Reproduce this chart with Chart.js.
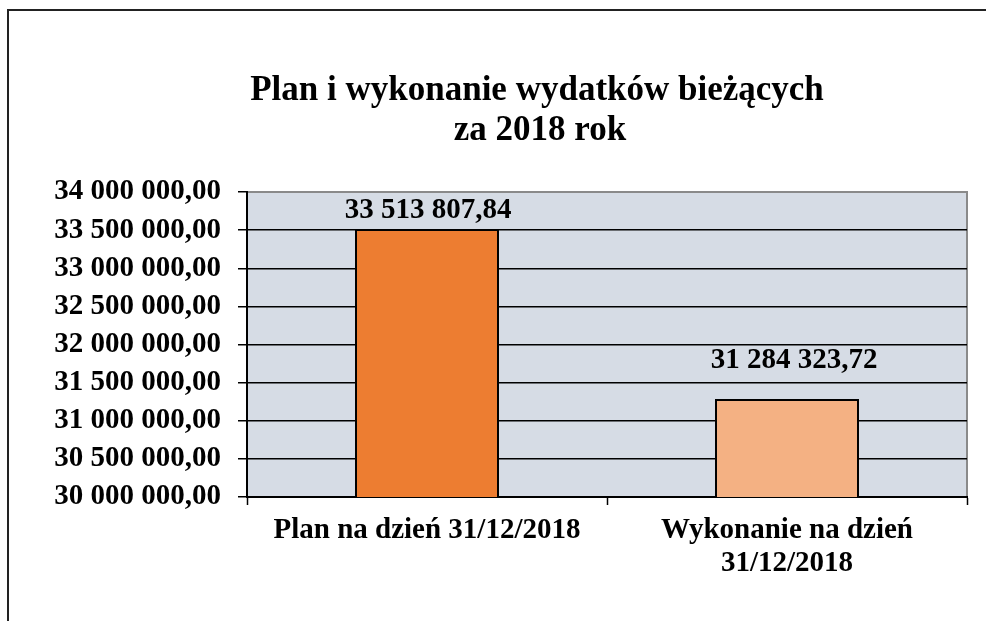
<!DOCTYPE html>
<html>
<head>
<meta charset="utf-8">
<script src="https://cdn.jsdelivr.net/npm/chart.js@4/dist/chart.umd.min.js"></script>
<style>
  body { margin: 0; background: #fff; overflow: hidden; }
  #frame { position: absolute; left: 7px; top: 9px; width: 1200px; height: 800px;
           border-left: 2px solid #222; border-top: 2px solid #222; }
  #wrap { position: absolute; left: 0; top: 0; width: 986px; height: 621px; }
</style>
</head>
<body>
<div id="frame"></div>
<div id="wrap"><canvas id="myChart" width="986" height="621"></canvas></div>
<script>
const titleLines = ['Plan i wykonanie wydatków bieżących', 'za 2018 rok'];
const categories = [['Plan na dzień 31/12/2018'], ['Wykonanie na dzień', '31/12/2018']];
const values = [33513807.84, 31284323.72];
const barColors = ['#ED7D31', '#F4B183'];
const yMin = 30000000;
const yMax = 34000000;
const yStep = 500000;

const serif = '"Liberation Serif", "Times New Roman", serif';

function fmt(v) {
  const parts = Number(v).toFixed(2).split('.');
  return parts[0].replace(/\B(?=(\d{3})+(?!\d))/g, ' ') + ',' + parts[1];
}

const plotBg = {
  id: 'plotBg',
  beforeDraw(chart) {
    const a = chart.chartArea;
    const c = chart.ctx;
    c.save();
    c.fillStyle = '#D6DCE5';
    c.fillRect(a.left, a.top, a.right - a.left, a.bottom - a.top);
    c.strokeStyle = '#8a8a8a';
    c.lineWidth = 2;
    c.beginPath();
    c.moveTo(a.left, a.top);
    c.lineTo(a.right, a.top);
    c.lineTo(a.right, a.bottom);
    c.stroke();
    c.restore();
  }
};

const titleDraw = {
  id: 'titleDraw',
  afterDraw(chart) {
    const c = chart.ctx;
    c.save();
    c.fillStyle = '#000';
    c.font = 'bold 35px ' + serif;
    c.textAlign = 'center';
    c.textBaseline = 'alphabetic';
    c.fillText(titleLines[0], 537, 100);
    c.fillText(titleLines[1], 540, 140);
    c.restore();
  }
};

// label offsets from the bar top (the second label sits higher in the original)
const labelShift = [[1, 11], [7, 31]];

const valueLabels = {
  id: 'valueLabels',
  afterDatasetsDraw(chart) {
    const c = chart.ctx;
    const meta = chart.getDatasetMeta(0);
    c.save();
    c.fillStyle = '#000';
    c.font = 'bold 29px ' + serif;
    c.textAlign = 'center';
    c.textBaseline = 'alphabetic';
    meta.data.forEach((bar, i) => {
      c.fillText(fmt(values[i]), bar.x + labelShift[i][0], bar.y - labelShift[i][1]);
    });
    c.restore();
  }
};

const ctx = document.getElementById('myChart');
new Chart(ctx, {
  type: 'bar',
  data: {
    labels: categories,
    datasets: [{
      data: values,
      backgroundColor: barColors,
      borderColor: '#000',
      borderWidth: 2,
      borderSkipped: false,
      barPercentage: 0.4,
      categoryPercentage: 1
    }]
  },
  options: {
    responsive: false,
    animation: false,
    layout: { padding: { top: 192, right: 19, left: 0, bottom: 0 } },
    plugins: {
      legend: { display: false },
      tooltip: { enabled: false }
    },
    scales: {
      x: {
        offset: true,
        afterFit(scale) { scale.height = 124; },
        grid: {
          offset: true,
          drawOnChartArea: false,
          tickLength: 8,
          tickColor: '#000',
          tickWidth: 1.5
        },
        border: { color: '#000', width: 2 },
        ticks: {
          color: '#000',
          padding: 9,
          maxRotation: 0,
          font: { family: serif, size: 29, weight: 'bold', lineHeight: 1.14 }
        }
      },
      y: {
        min: yMin,
        max: yMax,
        afterFit(scale) { scale.width = 247; },
        grid: {
          color: (c) => c.tick && c.tick.value === yMax ? 'rgba(0,0,0,0)' : '#000',
          lineWidth: 1.5,
          tickLength: 9,
          tickColor: '#000'
        },
        border: { color: '#000', width: 2 },
        ticks: {
          stepSize: yStep,
          color: '#000',
          padding: 17,
          callback: (v) => fmt(v),
          font: { family: serif, size: 29, weight: 'bold' }
        }
      }
    }
  },
  plugins: [plotBg, titleDraw, valueLabels]
});
</script>
</body>
</html>
